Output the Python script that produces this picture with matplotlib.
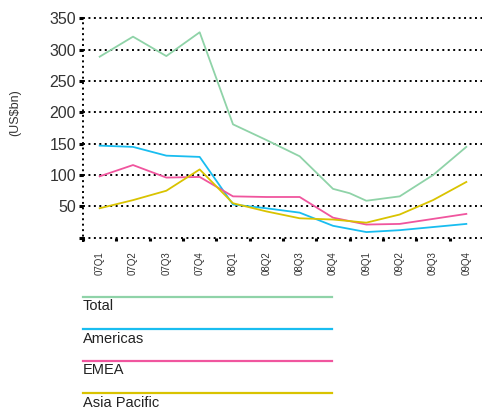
import matplotlib
matplotlib.use("Agg")
import matplotlib.pyplot as plt
from matplotlib.lines import Line2D

plt.rcParams['font.family'] = ['Liberation Sans', 'DejaVu Sans']

quarters = ['07Q1', '07Q2', '07Q3', '07Q4', '08Q1', '08Q2',
            '08Q3', '08Q4', '09Q1', '09Q2', '09Q3', '09Q4']

# x positions in quarter units (0 = 07Q1); Total has one extra mid-quarter point
total_x = [0, 1, 2, 3, 4, 5, 6, 7, 7.5, 8, 9, 10, 11]
total = [289, 321, 290, 328, 181, 156, 130, 78, 71, 59, 66, 100, 145]
quarter_x = list(range(12))
americas = [147, 145, 131, 129, 53, 47, 40, 19, 9, 12, 17, 22]
emea = [98, 116, 96, 97, 66, 65, 65, 32, 21, 22, 30, 38]
asia_pacific = [47, 60, 75, 109, 55, 42, 31, 29, 24, 37, 60, 89]

series_names = ['Total', 'Americas', 'EMEA', 'Asia Pacific']
colors = ['#8fd3a8', '#19bdf0', '#f0559e', '#d9c300']
y_ticks = [0, 50, 100, 150, 200, 250, 300, 350]

W, H = 482, 412
fig = plt.figure(figsize=(W / 100, H / 100), dpi=100)
ax = fig.add_axes([83 / W, 1 - 237.7 / H, 400 / W, (237.7 - 18.5) / H])

ax.plot(total_x, total, color=colors[0], lw=1.3, clip_on=False)
ax.plot(quarter_x, americas, color=colors[1], lw=1.3, clip_on=False)
ax.plot(quarter_x, emea, color=colors[2], lw=1.3, clip_on=False)
ax.plot(quarter_x, asia_pacific, color=colors[3], lw=1.3, clip_on=False)

ax.set_xlim(-0.5, 11.5)
ax.set_ylim(0, 350)

dots = (0, (1, 1.8))
for yv in y_ticks:
    ax.axhline(yv, color='black', lw=1.4, ls=dots, zorder=0, clip_on=False)
ax.plot([-0.5, -0.5], [-7, 350], color='black', lw=1.4, ls=dots,
        clip_on=False, zorder=0)

for s in ax.spines.values():
    s.set_visible(False)

ax.set_yticks(y_ticks)
ax.set_yticklabels([''] + [str(v) for v in y_ticks[1:]], fontsize=11.5,
                   color='#333333')
ax.tick_params(axis='y', length=3, width=2.2, pad=2, color='black')

ax.set_xticks([i - 0.5 for i in range(12)])
ax.set_xticklabels([])
ax.tick_params(axis='x', which='major', length=2.5, width=2.2, pad=2,
               color='black')
ax.set_xticks(range(12), minor=True)
ax.set_xticklabels(quarters, minor=True, rotation=90, fontsize=7,
                   color='#333333')
ax.tick_params(axis='x', which='minor', length=0, pad=10)

fig.text(15 / W, 1 - 113 / H, '(US$bn)', rotation=90, fontsize=9,
         ha='center', va='center', color='#333333')

# legend below the chart
leg_y = [296.7, 329.3, 360.7, 393.3]
for name, col, yy in zip(series_names, colors, leg_y):
    fig.add_artist(Line2D([83 / W, 332 / W], [1 - yy / H, 1 - yy / H],
                          color=col, lw=1.6))
    fig.text(83 / W, 1 - (yy + 2.5) / H, name, fontsize=10.5, ha='left',
             va='top', color='#222222')

fig.savefig('out.png', dpi=100)
